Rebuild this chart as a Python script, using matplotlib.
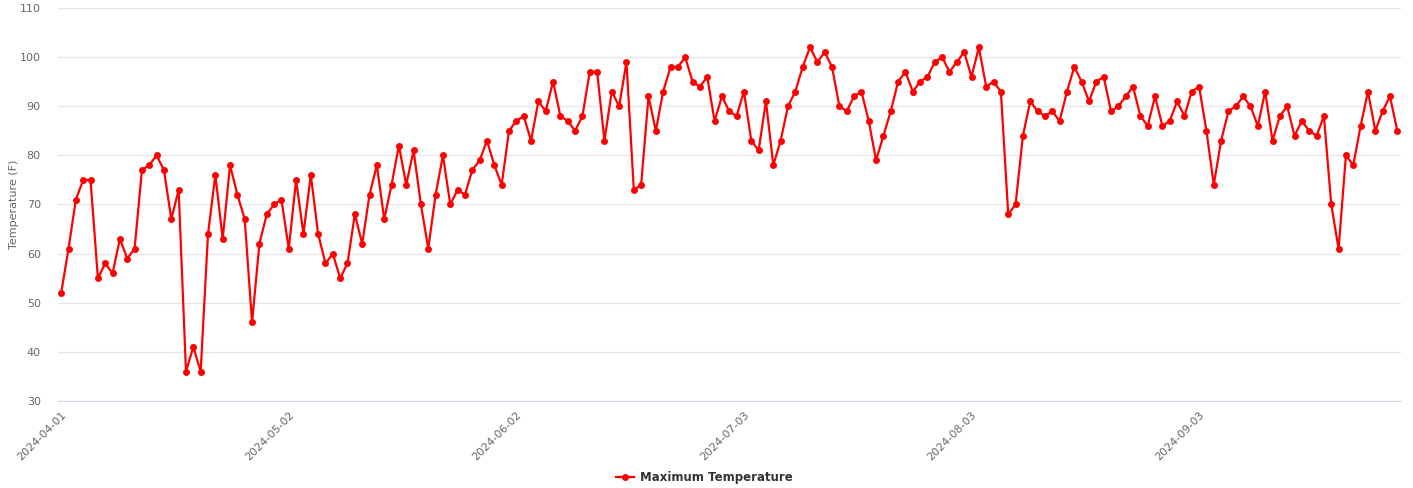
import matplotlib.pyplot as plt
import numpy as np
import pandas as pd
from matplotlib.lines import Line2D

# daily max temperature (F), 2024-04-01 .. 2024-09-30
apr = [52, 61, 71, 75, 75, 55, 58, 56, 63, 59, 61, 77, 78, 80, 77, 67, 73, 36, 41, 36,
       64, 76, 63, 78, 72, 67, 46, 62, 68, 70]
may = [71, 61, 75, 64, 76, 64, 58, 60, 55, 58, 68, 62, 72, 78, 67, 74, 82, 74, 81, 70,
       61, 72, 80, 70, 73, 72, 77, 79, 83, 78, 74]
jun = [85, 87, 88, 83, 91, 89, 95, 88, 87, 85, 88, 97, 97, 83, 93, 90, 99, 73, 74, 92,
       85, 93, 98, 98, 100, 95, 94, 96, 87, 92]
jul = [89, 88, 93, 83, 81, 91, 78, 83, 90, 93, 98, 102, 99, 101, 98, 90, 89, 92, 93, 87,
       79, 84, 89, 95, 97, 93, 95, 96, 99, 100, 97]
aug = [99, 101, 96, 102, 94, 95, 93, 68, 70, 84, 91, 89, 88, 89, 87, 93, 98, 95, 91, 95,
       96, 89, 90, 92, 94, 88, 86, 92, 86, 87, 91]
sep = [88, 93, 94, 85, 74, 83, 89, 90, 92, 90, 86, 93, 83, 88, 90, 84, 87, 85, 84, 88,
       70, 61, 80, 78, 86, 93, 85, 89, 92, 85]

temps = apr + may + jun + jul + aug + sep
dates = pd.date_range("2024-04-01", periods=len(temps), freq="D").strftime("%Y-%m-%d")
y_ticks = [30, 40, 50, 60, 70, 80, 90, 100, 110]

fig = plt.figure(figsize=(14.13, 4.88), dpi=100)
ax = fig.add_axes([0.0407, 0.1783, 0.9508, 0.8053])

x = np.arange(len(temps))
ax.plot(x, temps, color="#ff0000", linewidth=1.6, marker="o", markersize=5,
        markeredgewidth=0, zorder=3)

ax.set_xlim(-0.5, len(temps) - 0.5)
ax.set_ylim(30, 110)
ax.set_yticks(y_ticks)
ax.grid(axis="y", color="#e6e6e6", linewidth=1)
ax.set_axisbelow(True)

tick_pos = x[::31]
ax.set_xticks(tick_pos)
ax.set_xticklabels(dates[::31], rotation=45, ha="right", va="top",
                   rotation_mode="anchor", color="#666666", fontsize=8)
ax.tick_params(axis="x", length=0, pad=6)
ax.tick_params(axis="y", length=0, pad=12, labelcolor="#666666", labelsize=8)

for s in ["top", "right", "left"]:
    ax.spines[s].set_visible(False)
ax.spines["bottom"].set_color("#ccd6eb")

ax.set_ylabel("Temperature (F)", color="#666666", fontsize=8)
ax.yaxis.set_label_coords(-0.0285, 0.5)

handle = Line2D([0], [0], color="#ff0000", linewidth=1.6, marker="o", markersize=5,
                markeredgewidth=0)
fig.legend([handle], ["Maximum Temperature"], loc="center", bbox_to_anchor=(0.4985, 0.021),
           frameon=False, handlelength=1.6, handletextpad=0.5,
           prop={"size": 8.5, "weight": "bold"}, labelcolor="#333333")

fig.savefig("out.png", dpi=100)
